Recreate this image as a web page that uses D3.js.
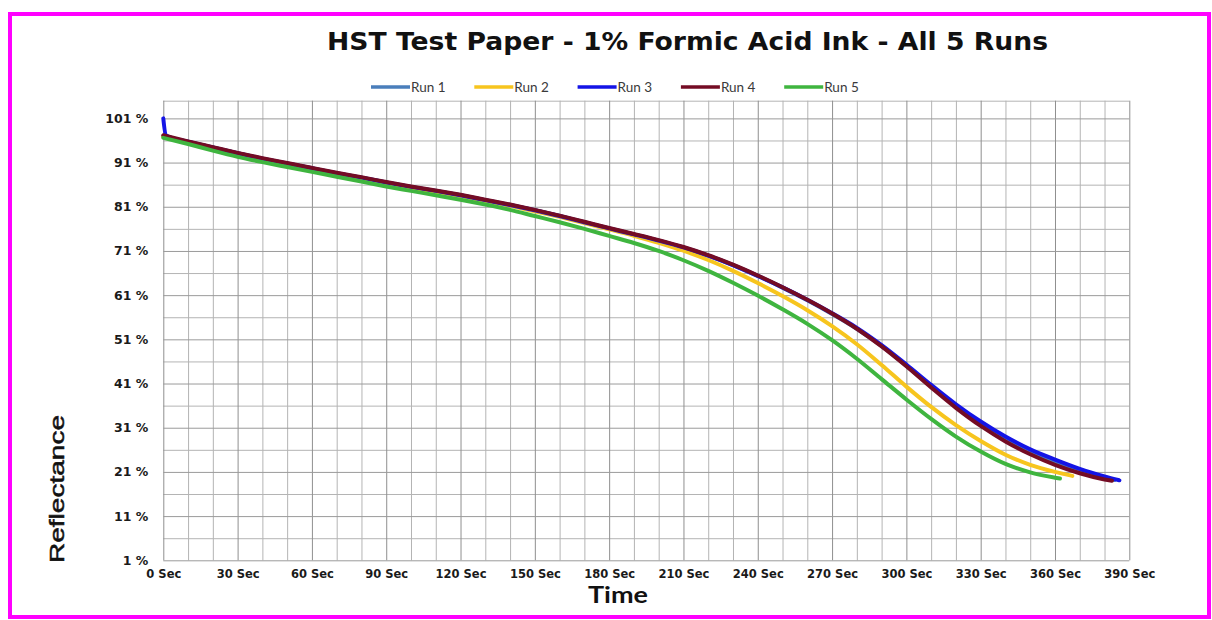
<!DOCTYPE html>
<html><head><meta charset="utf-8">
<script src="https://cdn.jsdelivr.net/npm/d3@7/dist/d3.min.js"></script>
<style>html,body{margin:0;padding:0;background:#fff;}svg{display:block;}</style>
</head><body>
<svg id="chart" width="1212" height="620"></svg>
<script>
const title = "HST Test Paper - 1% Formic Acid Ink - All 5 Runs";
const seriesNames = ["Run 1", "Run 2", "Run 3", "Run 4", "Run 5"];
const seriesColors = ["#4a7ebb", "#f7c51e", "#1414e6", "#740c24", "#3fb53f"];
const xTickValues = [0,30,60,90,120,150,180,210,240,270,300,330,360,390];
const yTickValues = [1,11,21,31,41,51,61,71,81,91,101];

const run1Time = [0,10,20,30,40,50,60,70,80,90,100,110,120,130,140,150,160,170,180,190,200,210,220,230,240,250,260,270,280,290,300,310,320,330,340,350,360,370,380,384];
const run1Value = [97.0,95.7,94.4,93.1,91.9,90.8,89.7,88.6,87.6,86.5,85.5,84.6,83.6,82.5,81.4,80.2,78.9,77.5,76.1,74.75,73.35,71.8,69.95,67.8,65.35,62.7,59.85,56.75,53.4,49.5,45.05,40.35,35.85,31.85,28.4,25.5,23.1,21.1,19.6,19.15];

const run2Time = [0,10,20,30,40,50,60,70,80,90,100,110,120,130,140,150,160,170,180,190,200,210,220,230,240,250,260,270,280,290,300,310,320,330,340,350,360,367];
const run2Value = [96.9,95.5,94.2,92.9,91.7,90.6,89.5,88.4,87.4,86.3,85.3,84.4,83.4,82.3,81.2,80.0,78.7,77.3,75.9,74.45,72.85,71.05,68.95,66.5,63.75,60.8,57.6,54.0,49.9,45.2,40.3,35.7,31.6,28.0,24.9,22.6,21.0,20.1];

const run3Time = [0,1,10,20,30,40,50,60,70,80,90,100,110,120,130,140,150,160,170,180,190,200,210,220,230,240,250,260,270,280,290,300,310,320,330,340,350,360,370,380,386];
const run3Value = [101.0,97.2,95.7,94.4,93.1,91.9,90.8,89.7,88.6,87.6,86.5,85.5,84.6,83.6,82.5,81.4,80.2,78.9,77.5,76.1,74.75,73.35,71.8,69.95,67.8,65.35,62.75,59.95,56.9,53.6,49.7,45.3,40.7,36.3,32.4,29.0,26.1,23.8,21.7,20.0,19.1];

const run4Time = [0,10,20,30,40,50,60,70,80,90,100,110,120,130,140,150,160,170,180,190,200,210,220,230,240,250,260,270,280,290,300,310,320,330,340,350,360,370,380,383];
const run4Value = [97.2,95.8,94.5,93.2,92.0,90.9,89.8,88.7,87.7,86.6,85.6,84.7,83.7,82.6,81.5,80.3,79.0,77.6,76.2,74.85,73.45,71.9,70.05,67.9,65.45,62.8,59.95,56.85,53.4,49.4,44.9,40.1,35.5,31.4,27.9,25.0,22.6,20.7,19.3,19.0];

const run5Time = [0,10,20,30,40,50,60,70,80,90,100,110,120,130,140,150,160,170,180,190,200,210,220,230,240,250,260,270,280,290,300,310,320,330,340,350,360,362];
const run5Value = [96.6,95.2,93.7,92.3,91.1,90.0,88.9,87.8,86.7,85.6,84.6,83.6,82.6,81.5,80.3,78.9,77.5,76.0,74.4,72.8,71.0,68.9,66.5,63.8,60.9,57.8,54.5,50.8,46.6,42.0,37.4,33.0,29.0,25.6,22.8,20.9,19.7,19.5];

const runTimes = [run1Time, run2Time, run3Time, run4Time, run5Time];
const runValues = [run1Value, run2Value, run3Value, run4Value, run5Value];

(function () {
const svg = d3.select("#chart");
const W = 1212, H = 620;
const pL = 163.3, pR = 1129.3, pT = 100.7, pB = 560.3;

svg.append("rect").attr("width", W).attr("height", H).attr("fill", "#fff");

// Frame
svg.append("rect").attr("x", 10).attr("y", 14).attr("width", 1199).attr("height", 603)
  .attr("fill", "none").attr("stroke", "#ff00ff").attr("stroke-width", 4);

const x = d3.scaleLinear().domain([0, 390]).range([pL, pR]);
const y = d3.scaleLinear().domain([1, 105]).range([pB, pT]);

// Grid via axes
const minorX = d3.range(0, 391, 10).filter(v => v % 30 !== 0);
const minorY = d3.range(6, 105, 10);

const gMinorX = svg.append("g").attr("transform", `translate(0,${pB})`)
  .call(d3.axisBottom(x).tickValues(minorX).tickSize(-(pB - pT)).tickFormat(""));
const gMinorY = svg.append("g").attr("transform", `translate(${pL},0)`)
  .call(d3.axisLeft(y).tickValues(minorY.concat([105])).tickSize(-(pR - pL)).tickFormat(""));
[gMinorX, gMinorY].forEach(g => {
  g.select(".domain").remove();
  g.selectAll(".tick line").attr("stroke", "#b4b4b4").attr("stroke-width", 1);
});

const gMajorX = svg.append("g").attr("transform", `translate(0,${pB})`)
  .call(d3.axisBottom(x).tickValues(xTickValues).tickSize(-(pB - pT)).tickPadding(14)
    .tickFormat(d => d + " Sec"));
gMajorX.select(".domain").remove();
gMajorX.selectAll(".tick line").attr("stroke", "#8f8f8f").attr("stroke-width", 1);
gMajorX.selectAll(".tick text").attr("fill", "#1a1a1a")
  .style("font-family", "'DejaVu Sans', sans-serif").style("font-weight", "bold").style("font-size", "11.5px")
  .attr("dy", "0.3em");

const gMajorY = svg.append("g").attr("transform", `translate(${pL},0)`)
  .call(d3.axisLeft(y).tickValues(yTickValues).tickSize(-(pR - pL)).tickPadding(15)
    .tickFormat(d => d + " %"));
gMajorY.select(".domain").remove();
gMajorY.selectAll(".tick line").attr("stroke", "#9a9a9a").attr("stroke-width", 1);
gMajorY.selectAll(".tick text").attr("fill", "#1a1a1a")
  .style("font-family", "'DejaVu Sans', sans-serif").style("font-weight", "bold").style("font-size", "12.5px");

// Lines
const line = d3.line().x(d => x(d[0])).y(d => y(d[1])).curve(d3.curveMonotoneX);
runValues.forEach((vals, i) => {
  const pts = runTimes[i].map((t, j) => [t, vals[j]]);
  svg.append("path").datum(pts).attr("d", line)
    .attr("fill", "none").attr("stroke", seriesColors[i]).attr("stroke-width", 4)
    .attr("stroke-linejoin", "round").attr("stroke-linecap", "round");
});

// Title
svg.append("text").attr("x", 327).attr("y", 50).text(title)
  .attr("textLength", 721).attr("lengthAdjust", "spacingAndGlyphs")
  .style("font-family", "'DejaVu Sans', sans-serif").style("font-weight", "bold").style("font-size", "25.5px")
  .attr("fill", "#111");

// Legend
const legendStart = 371, legendStep = 103.3, legendY = 87;
seriesNames.forEach((name, i) => {
  const lx = legendStart + i * legendStep;
  svg.append("line").attr("x1", lx).attr("x2", lx + 39).attr("y1", legendY).attr("y2", legendY)
    .attr("stroke", seriesColors[i]).attr("stroke-width", 3.5);
  svg.append("text").attr("x", lx + 40).attr("y", legendY + 4.5).text(name)
    .style("font-family", "Lato, 'Open Sans', sans-serif").style("font-size", "13.5px")
    .attr("fill", "#3a3a3a");
});

// Axis titles
svg.append("text").attr("transform", `translate(64,489) rotate(-90)`)
  .attr("text-anchor", "middle").text("Reflectance")
  .attr("textLength", 148).attr("lengthAdjust", "spacingAndGlyphs")
  .style("font-family", "'Liberation Sans', Arial, sans-serif").style("font-size", "20px")
  .attr("stroke", "#111").attr("stroke-width", 0.5)
  .attr("fill", "#111");

svg.append("text").attr("x", 618).attr("y", 603).attr("text-anchor", "middle").text("Time")
  .attr("textLength", 60).attr("lengthAdjust", "spacingAndGlyphs")
  .style("font-family", "Lato, sans-serif").style("font-weight", "bold").style("font-size", "22px")
  .attr("fill", "#111");
})();
</script>
</body></html>
